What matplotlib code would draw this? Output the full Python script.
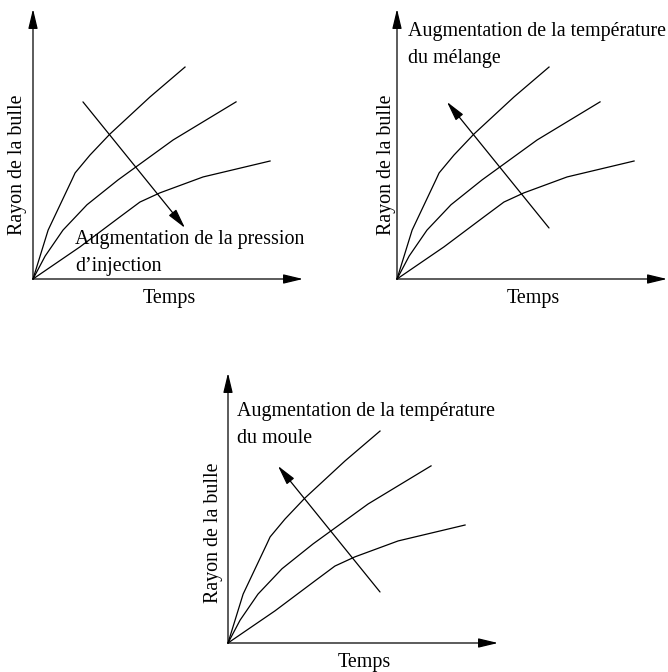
import matplotlib
matplotlib.use("Agg")
import matplotlib.pyplot as plt
from matplotlib.patches import FancyArrowPatch

plt.rcParams['font.family'] = ['Liberation Serif', 'DejaVu Serif']

# curves (temps, rayon) in schematic units, origin at (0, 0), axes go to 10
curve_a_t = [0, 0.56, 1.44, 1.56, 2.11, 2.85, 4.33, 5.63]
curve_a_r = [0, 1.81, 3.67, 3.93, 4.59, 5.37, 6.74, 7.85]
curve_b_t = [0, 0.45, 1.11, 2.0, 3.15, 5.19, 7.52]
curve_b_r = [0, 0.85, 1.81, 2.75, 3.67, 5.15, 6.56]
curve_c_t = [0, 1.74, 3.22, 3.96, 4.70, 6.30, 8.78]
curve_c_r = [0, 1.19, 2.30, 2.85, 3.19, 3.78, 4.37]

# arrow across the curves: start and end (temps, rayon)
arrow_down = [(1.85, 6.56), (5.63, 1.89)]
arrow_up = [(5.63, 1.89), (1.85, 6.56)]

xlabel = "Temps"
ylabel = "Rayon de la bulle"
captions = [
    ["Augmentation de la pression", "d\u2019injection"],
    ["Augmentation de la temp\u00e9rature", "du m\u00e9lange"],
    ["Augmentation de la temp\u00e9rature", "du moule"],
]
# panel origins in pixels (from top-left of the figure)
origins = [(33, 279), (397, 279), (228, 643)]
arrows = [arrow_down, arrow_up, arrow_up]
caption_pos = [(1.56, 1.30), (0.41, 9.0), (0.33, 8.42)]
ylabel_pos = [(-0.56, 4.22), (-0.40, 4.22), (-0.55, 4.1)]

W, H = 668, 672
scale = 27.0
lo, hi = -1.2, 10.6
fs = 14.4

fig = plt.figure(figsize=(W / 100, H / 100), dpi=100)


def arrow(ax, p0, p1):
    a = FancyArrowPatch(p0, p1, arrowstyle='-|>,head_length=1.0,head_width=0.24',
                        mutation_scale=12, color='black', lw=0.9,
                        shrinkA=0, shrinkB=0)
    ax.add_patch(a)


for i in range(3):
    ox, oy = origins[i]
    left = (ox + lo * scale) / W
    bottom = (H - oy + lo * scale) / H
    ax = fig.add_axes([left, bottom, (hi - lo) * scale / W, (hi - lo) * scale / H])
    ax.set_xlim(lo, hi)
    ax.set_ylim(lo, hi)
    ax.axis('off')

    arrow(ax, (0, 0), (0, 10))
    arrow(ax, (0, 0), (10, 0))

    for t, r in [(curve_a_t, curve_a_r), (curve_b_t, curve_b_r), (curve_c_t, curve_c_r)]:
        ax.plot(t, r, color='black', lw=0.9)

    arrow(ax, arrows[i][0], arrows[i][1])

    cx, cy = caption_pos[i]
    ax.text(cx, cy, captions[i][0], fontsize=fs, ha='left', va='baseline')
    ax.text(cx, cy - 1.0, captions[i][1], fontsize=fs, ha='left', va='baseline')

    ax.text(5.05, -0.72, xlabel, fontsize=fs, ha='center', va='center')
    yx, yy = ylabel_pos[i]
    ax.text(yx, yy, ylabel, fontsize=fs, ha='center', va='center', rotation=90)

fig.savefig('out.png', dpi=100)
